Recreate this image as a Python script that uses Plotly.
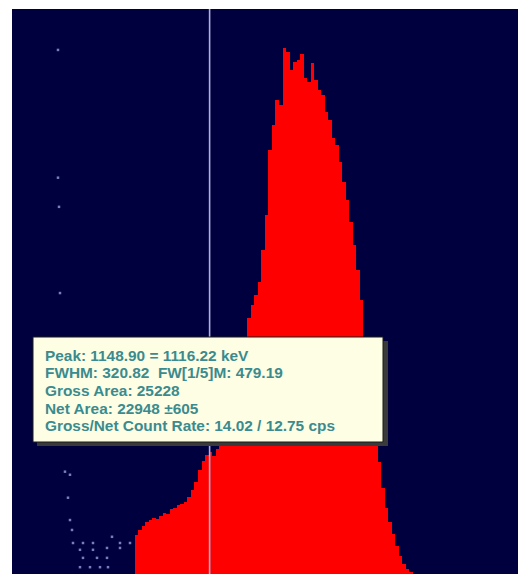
import plotly.graph_objects as go

# Spectrum region around the peak: counts per channel, 10-channel bins
bin_width = 10
bin_start = 670
counts = [
    6.3, 7.1, 7.7, 8.4, 8.7, 9.0, 8.9, 9.4, 9.8, 9.7,
    10.5, 10.6, 11.1, 11.3, 11.6, 12.4, 13.5, 14.8, 16.8, 18.2,
    19.2, 19.7, 19.0, 20.2, 21.6, 23.2, 25.6, 27.7, 30.0, 32.6,
    35.8, 38.1, 41.3, 43.4, 45.0, 47.1, 52.3, 57.9, 68.4, 72.4,
    76.5, 75.6, 84.8, 84.2, 81.3, 82.6, 82.9, 83.9, 80.0, 79.4,
    82.4, 79.7, 78.1, 77.3, 74.5, 73.2, 70.3, 69.2, 66.5, 63.2,
    60.3, 56.8, 53.1, 49.0, 44.2, 38.1, 30.5, 25.6, 21.6, 18.1,
    13.9, 10.6, 8.4, 6.5, 4.5, 2.9, 1.6, 0.8, 0.3,
]
channels = [bin_start + i * bin_width for i in range(len(counts))]

# Sparse low-count channels below the peak region
dot_channels = [447.4, 447.4, 450.3, 453.1, 467.3, 481.5, 475.8, 481.5, 487.2, 490.0,
                518.4, 546.8, 600.8, 623.5, 651.9, 509.9, 546.8, 586.6, 623.5,
                509.9, 538.3, 566.7, 589.4, 518.4, 558.2, 586.6]
dot_counts = [84.5, 63.9, 59.2, 45.3, 16.5, 16.0, 12.3, 8.7, 7.1, 5.0,
              5.0, 5.0, 6.0, 5.0, 5.0, 3.9, 3.9, 4.2, 4.2,
              1.1, 1.1, 1.1, 1.1, 2.6, 2.6, 2.6]

cursor_channel = 878
x_range = [316.8, 1753.8]
y_range = [0, 91.1]

info_lines = [
    "Peak: 1148.90 = 1116.22 keV",
    "FWHM: 320.82  FW[1/5]M: 479.19",
    "Gross Area: 25228",
    "Net Area: 22948 \u00b1605",
    "Gross/Net Count Rate: 14.02 / 12.75 cps",
]

W, H = 518, 574
ml, mr, mt, mb = 12, 0, 9, 0
pw, ph = W - ml - mr, H - mt - mb


def px_x(p):
    return (p - ml) / pw


def px_y(p):
    return (H - mb - p) / ph


fig = go.Figure()
fig.add_trace(go.Bar(
    x=channels, y=counts, width=bin_width,
    marker=dict(color="#ff0000", line=dict(width=0)),
    hoverinfo="skip",
))
fig.add_trace(go.Scatter(
    x=dot_channels, y=dot_counts, mode="markers",
    marker=dict(symbol="square", size=2.5, color="rgba(170,180,240,0.7)", line=dict(width=0)),
    hoverinfo="skip",
))

shapes = [
    # cursor line
    dict(type="line", xref="x", yref="paper", x0=cursor_channel, x1=cursor_channel,
         y0=0, y1=1, line=dict(color="#b0b0dc", width=1.6), layer="above"),
    # info box shadow
    dict(type="rect", xref="paper", yref="paper",
         x0=px_x(37), x1=px_x(388), y0=px_y(446), y1=px_y(341),
         fillcolor="#3a3a3a", line=dict(width=0), layer="above"),
    # info box
    dict(type="rect", xref="paper", yref="paper",
         x0=px_x(33), x1=px_x(383), y0=px_y(442), y1=px_y(337),
         fillcolor="#fefee4", line=dict(color="#1a1a1a", width=1), layer="above"),
]

annotations = []
line_y = [355, 373, 390, 408, 426]
for txt, yy in zip(info_lines, line_y):
    annotations.append(dict(
        text="<b>" + txt + "</b>", xref="paper", yref="paper",
        x=px_x(43), y=px_y(yy), xanchor="left", yanchor="middle",
        showarrow=False, align="left",
        font=dict(family="Liberation Sans, Arial, sans-serif", size=15.4, color="#3b8b8e"),
    ))

fig.update_layout(
    width=W, height=H,
    margin=dict(l=ml, r=mr, t=mt, b=mb),
    paper_bgcolor="white",
    plot_bgcolor="#00003f",
    bargap=0,
    showlegend=False,
    shapes=shapes,
    annotations=annotations,
    xaxis=dict(range=x_range, visible=False, showgrid=False, zeroline=False),
    yaxis=dict(range=y_range, visible=False, showgrid=False, zeroline=False),
)

fig.write_html("out.html", config={"displayModeBar": False})
